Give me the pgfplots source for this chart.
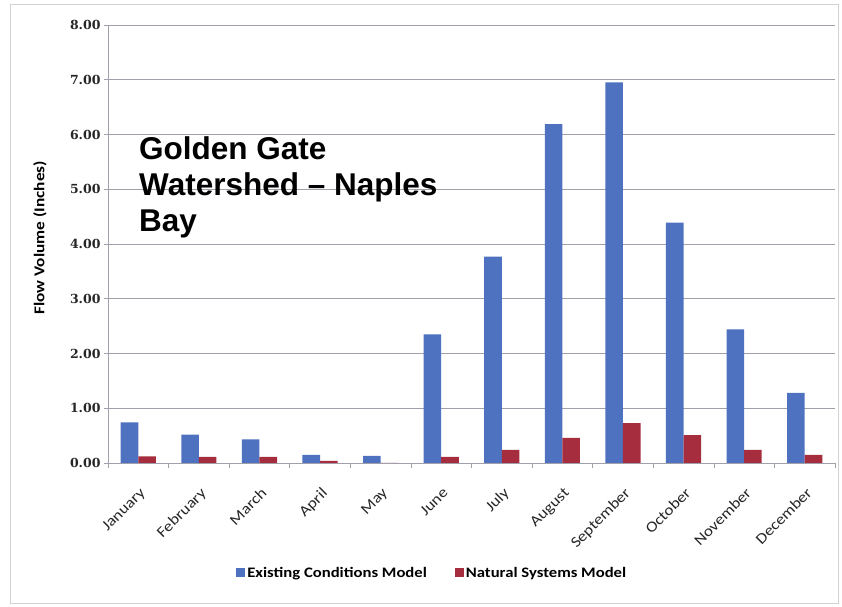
\documentclass[border=0pt]{standalone}
\usepackage{fontspec}
\setmainfont[FakeStretch=1.15]{Carlito}
\newfontfamily\titlefont{Liberation Sans}
\newfontfamily\tickfont{DejaVu Serif}
\usepackage{pgfplots}
\pgfplotsset{compat=1.18}
\definecolor{ecm}{RGB}{79,114,192}
\definecolor{nsm}{RGB}{165,45,62}
\definecolor{gridc}{RGB}{160,160,170}
\begin{document}
\begin{tikzpicture}[x=1bp,y=1bp]
\path[use as bounding box] (0,0) rectangle (842,607);
\draw[gray!35] (10,4) rectangle (838,603);
\begin{axis}[
  at={(108bp,144bp)}, anchor=south west,
  scale only axis, width=727bp, height=438bp,
  ybar=0pt, bar width=0.29,
  xmin=-0.5, xmax=11.5, ymin=0, ymax=8,
  ytick={0,1,...,8},
  xtick={0,...,11},
  xticklabels={January,February,March,April,May,June,July,August,September,October,November,December},
  minor xtick={-0.5,0.5,...,11.5},
  axis x line*=bottom, axis y line*=left,
  axis line style={gridc, -, line width=0.7pt},
  ymajorgrids, grid style={gridc, line width=0.7pt},
  major x tick style={draw=none},
  tick style={gridc, line width=0.7pt},
  tick align=outside,
  major tick length=4bp, minor tick length=5bp,
  yticklabel style={/pgf/number format/fixed, /pgf/number format/fixed zerofill, /pgf/number format/precision=2, /pgf/number format/assume math mode=true, font=\tickfont\bfseries\fontsize{12.5bp}{14bp}\selectfont, text=black!85},
  xticklabel style={rotate=45, anchor=north east, yshift=-11bp, xshift=-10bp, font=\fontsize{15bp}{17bp}\selectfont, text=black!85},
  ylabel={Flow Volume (Inches)},
  ylabel style={at={(axis description cs:-0.0935,0.514)}, anchor=center, font=\bfseries\fontsize{15bp}{17bp}\selectfont},
  legend style={at={(0.446,-0.251)}, anchor=center, draw=none, fill=none, legend columns=2, font=\bfseries\fontsize{14.5bp}{17bp}\selectfont, /tikz/every even column/.append style={column sep=26bp}},
  legend image code/.code={\fill[#1] (0bp,-4.5bp) rectangle (9bp,4.5bp);},
]
\addplot[fill=ecm, draw=none] coordinates {(0,0.74) (1,0.52) (2,0.43) (3,0.15) (4,0.13) (5,2.35) (6,3.77) (7,6.19) (8,6.95) (9,4.39) (10,2.44) (11,1.28)};
\addplot[fill=nsm, draw=none] coordinates {(0,0.12) (1,0.11) (2,0.11) (3,0.04) (4,0.0) (5,0.11) (6,0.24) (7,0.46) (8,0.73) (9,0.51) (10,0.24) (11,0.15)};
\legend{Existing Conditions Model, Natural Systems Model}
\end{axis}
\node[anchor=base west, align=left, inner sep=0pt, font=\titlefont\bfseries\fontsize{31.5bp}{36bp}\selectfont] at (139,375) {Golden Gate\\Watershed – Naples\\Bay};
\end{tikzpicture}
\end{document}
